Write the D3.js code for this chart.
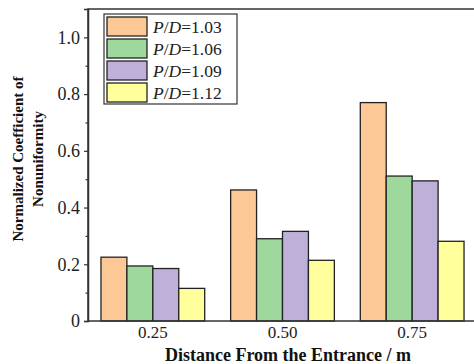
<!DOCTYPE html>
<html>
<head>
<meta charset="utf-8">
<script src="https://cdn.jsdelivr.net/npm/d3@7"></script>
<style>
  body { margin: 0; background: #fff; }
  svg text { font-family: 'Liberation Serif', 'Times New Roman', Times, 'DejaVu Serif', serif; }
</style>
</head>
<body>
<div id="chart"></div>
<script>
const categories = ['0.25', '0.50', '0.75'];
const seriesNames = ['1.03', '1.06', '1.09', '1.12'];
const pd103 = [0.225, 0.462, 0.770];
const pd106 = [0.194, 0.290, 0.511];
const pd109 = [0.185, 0.316, 0.494];
const pd112 = [0.115, 0.214, 0.281];
const yTicks = [0, 0.2, 0.4, 0.6, 0.8, 1.0];
const yMinorTicks = [0.1, 0.3, 0.5, 0.7, 0.9];

const seriesValues = [pd103, pd106, pd109, pd112];
const colors = ['#fcc896', '#9fd89c', '#beb0d8', '#ffff9c'];
const serif = "'Liberation Serif', 'Times New Roman', Times, 'DejaVu Serif', serif";

const width = 474, height = 364;
const margin = { top: 9, right: -3, bottom: 43, left: 88 };
const plotW = width - margin.left - margin.right;
const plotH = height - margin.top - margin.bottom;

const svg = d3.select('#chart').append('svg')
  .attr('width', width)
  .attr('height', height);

const graph = svg.append('g').attr('transform', `translate(${margin.left},${margin.top})`);

const xScale = d3.scaleBand()
  .domain(categories)
  .range([0, plotW])
  .paddingInner(0.2)
  .paddingOuter(0.1);

const xSub = d3.scaleBand()
  .domain(d3.range(seriesNames.length))
  .range([0, xScale.bandwidth()]);

const yScale = d3.scaleLinear().domain([0, 1.1]).range([plotH, 0]);

// bars
const groups = graph.selectAll('g.group')
  .data(categories)
  .enter()
  .append('g')
  .attr('class', 'group')
  .attr('transform', d => `translate(${xScale(d)},0)`);

groups.selectAll('rect')
  .data((d, i) => seriesValues.map((vals, s) => ({ s, v: vals[i] })))
  .enter()
  .append('rect')
  .attr('x', d => xSub(d.s))
  .attr('y', d => yScale(d.v))
  .attr('width', xSub.bandwidth())
  .attr('height', d => yScale(0) - yScale(d.v))
  .attr('fill', d => colors[d.s])
  .attr('stroke', '#222')
  .attr('stroke-width', 1.3);

// frame
graph.append('rect')
  .attr('x', 0).attr('y', 0)
  .attr('width', plotW).attr('height', plotH)
  .attr('fill', 'none')
  .attr('stroke', '#333')
  .attr('stroke-width', 1.5);

// y axis
const yAxis = d3.axisLeft(yScale)
  .tickValues(yTicks)
  .tickSize(4)
  .tickPadding(4)
  .tickFormat(d => d === 0 ? '0' : d3.format('.1f')(d));

const yG = graph.append('g').call(yAxis).attr('font-family', serif);
yG.select('.domain').attr('stroke', '#333').attr('stroke-width', 1.5);
yG.selectAll('.tick line').attr('stroke', '#333').attr('stroke-width', 1.2);
yG.selectAll('.tick text')
  .attr('font-size', 18)
  .attr('fill', '#222');

const yMinor = graph.append('g')
  .call(d3.axisLeft(yScale).tickValues(yMinorTicks).tickSize(2.5).tickFormat(''));
yMinor.select('.domain').remove();
yMinor.selectAll('.tick line').attr('stroke', '#333').attr('stroke-width', 1.2);

// x axis
const xG = graph.append('g')
  .attr('transform', `translate(0,${plotH})`)
  .call(d3.axisBottom(xScale).tickSize(0).tickPadding(5))
  .attr('font-family', serif);
xG.select('.domain').remove();
xG.selectAll('.tick text')
  .attr('font-size', 17)
  .attr('fill', '#222');

// axis titles
svg.append('text')
  .attr('x', 288)
  .attr('y', 361)
  .attr('text-anchor', 'middle')
  .attr('font-size', 18)
  .attr('font-weight', 'bold')
  .attr('fill', '#111')
  .text('Distance From the Entrance / m');

const yTitle = svg.append('text')
  .attr('transform', 'translate(0,159) rotate(-90)')
  .attr('text-anchor', 'middle')
  .attr('font-size', 15)
  .attr('font-weight', 'bold')
  .attr('fill', '#111');
yTitle.append('tspan').attr('x', 0).attr('y', 23).text('Normalized Coefficient of');
yTitle.append('tspan').attr('x', 0).attr('y', 43).text('Nonuniformity');

// legend
const legend = svg.append('g').attr('transform', 'translate(104,14)');
legend.append('rect')
  .attr('x', 0).attr('y', 0)
  .attr('width', 133).attr('height', 90)
  .attr('fill', '#fff')
  .attr('stroke', '#333')
  .attr('stroke-width', 1.2);

const items = legend.selectAll('g.item')
  .data(seriesNames)
  .enter()
  .append('g')
  .attr('class', 'item')
  .attr('transform', (d, i) => `translate(3,${3 + i * 22})`);

items.append('rect')
  .attr('width', 40).attr('height', 19)
  .attr('fill', (d, i) => colors[i])
  .attr('stroke', '#222')
  .attr('stroke-width', 1.3);

const lt = items.append('text')
  .attr('x', 46)
  .attr('y', 16)
  .attr('font-size', 17.5)
  .attr('fill', '#222');
lt.append('tspan').attr('font-style', 'italic').text('P');
lt.append('tspan').text('/');
lt.append('tspan').attr('font-style', 'italic').text('D');
lt.append('tspan').text(d => '=' + d);
</script>
</body>
</html>
